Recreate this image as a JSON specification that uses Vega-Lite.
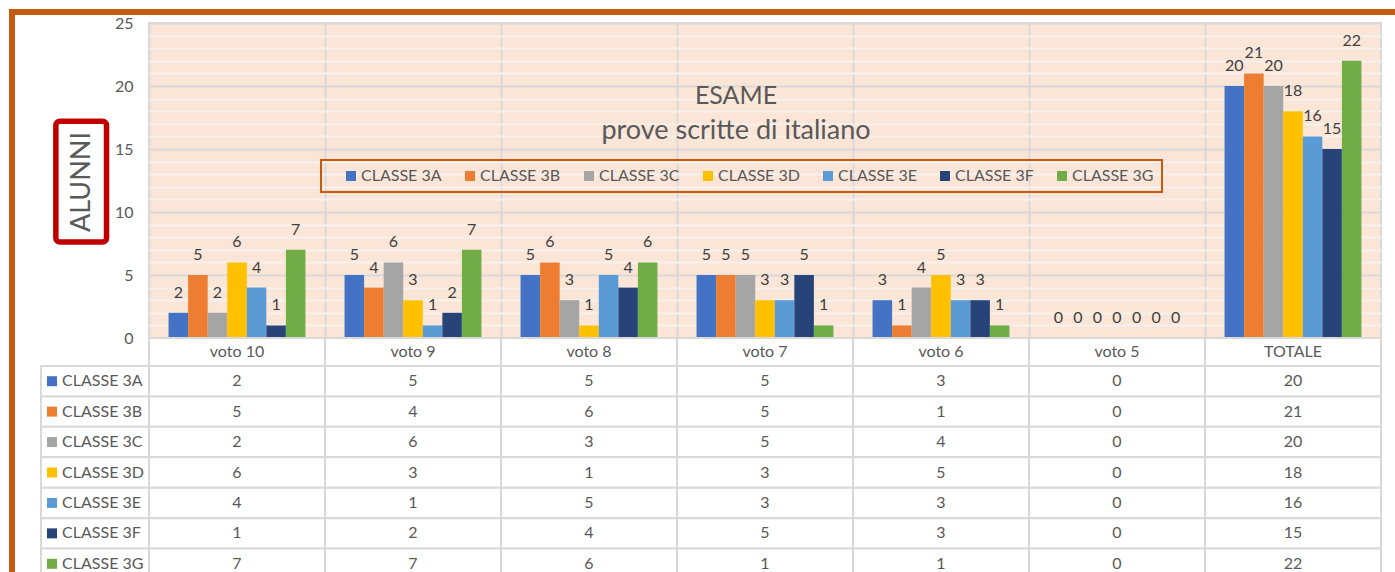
{
  "$schema": "https://vega.github.io/schema/vega-lite/v6.json",
  "background": "white",
  "padding": {"left": 9, "top": 9, "right": 0, "bottom": 0},
  "config": {"font": "Lato", "view": {"stroke": null}, "axis": {"labelFont": "Lato"}},
  "datasets": {
    "d": [
      {"cat": "voto 10", "cls": "CLASSE 3A", "n": 2}, {"cat": "voto 9", "cls": "CLASSE 3A", "n": 5}, {"cat": "voto 8", "cls": "CLASSE 3A", "n": 5}, {"cat": "voto 7", "cls": "CLASSE 3A", "n": 5}, {"cat": "voto 6", "cls": "CLASSE 3A", "n": 3}, {"cat": "voto 5", "cls": "CLASSE 3A", "n": 0}, {"cat": "TOTALE", "cls": "CLASSE 3A", "n": 20},
      {"cat": "voto 10", "cls": "CLASSE 3B", "n": 5}, {"cat": "voto 9", "cls": "CLASSE 3B", "n": 4}, {"cat": "voto 8", "cls": "CLASSE 3B", "n": 6}, {"cat": "voto 7", "cls": "CLASSE 3B", "n": 5}, {"cat": "voto 6", "cls": "CLASSE 3B", "n": 1}, {"cat": "voto 5", "cls": "CLASSE 3B", "n": 0}, {"cat": "TOTALE", "cls": "CLASSE 3B", "n": 21},
      {"cat": "voto 10", "cls": "CLASSE 3C", "n": 2}, {"cat": "voto 9", "cls": "CLASSE 3C", "n": 6}, {"cat": "voto 8", "cls": "CLASSE 3C", "n": 3}, {"cat": "voto 7", "cls": "CLASSE 3C", "n": 5}, {"cat": "voto 6", "cls": "CLASSE 3C", "n": 4}, {"cat": "voto 5", "cls": "CLASSE 3C", "n": 0}, {"cat": "TOTALE", "cls": "CLASSE 3C", "n": 20},
      {"cat": "voto 10", "cls": "CLASSE 3D", "n": 6}, {"cat": "voto 9", "cls": "CLASSE 3D", "n": 3}, {"cat": "voto 8", "cls": "CLASSE 3D", "n": 1}, {"cat": "voto 7", "cls": "CLASSE 3D", "n": 3}, {"cat": "voto 6", "cls": "CLASSE 3D", "n": 5}, {"cat": "voto 5", "cls": "CLASSE 3D", "n": 0}, {"cat": "TOTALE", "cls": "CLASSE 3D", "n": 18},
      {"cat": "voto 10", "cls": "CLASSE 3E", "n": 4}, {"cat": "voto 9", "cls": "CLASSE 3E", "n": 1}, {"cat": "voto 8", "cls": "CLASSE 3E", "n": 5}, {"cat": "voto 7", "cls": "CLASSE 3E", "n": 3}, {"cat": "voto 6", "cls": "CLASSE 3E", "n": 3}, {"cat": "voto 5", "cls": "CLASSE 3E", "n": 0}, {"cat": "TOTALE", "cls": "CLASSE 3E", "n": 16},
      {"cat": "voto 10", "cls": "CLASSE 3F", "n": 1}, {"cat": "voto 9", "cls": "CLASSE 3F", "n": 2}, {"cat": "voto 8", "cls": "CLASSE 3F", "n": 4}, {"cat": "voto 7", "cls": "CLASSE 3F", "n": 5}, {"cat": "voto 6", "cls": "CLASSE 3F", "n": 3}, {"cat": "voto 5", "cls": "CLASSE 3F", "n": 0}, {"cat": "TOTALE", "cls": "CLASSE 3F", "n": 15},
      {"cat": "voto 10", "cls": "CLASSE 3G", "n": 7}, {"cat": "voto 9", "cls": "CLASSE 3G", "n": 7}, {"cat": "voto 8", "cls": "CLASSE 3G", "n": 6}, {"cat": "voto 7", "cls": "CLASSE 3G", "n": 1}, {"cat": "voto 6", "cls": "CLASSE 3G", "n": 1}, {"cat": "voto 5", "cls": "CLASSE 3G", "n": 0}, {"cat": "TOTALE", "cls": "CLASSE 3G", "n": 22}
    ],
    "cats": [{"cat": "voto 10"}, {"cat": "voto 9"}, {"cat": "voto 8"}, {"cat": "voto 7"}, {"cat": "voto 6"}, {"cat": "voto 5"}, {"cat": "TOTALE"}],
    "classes": [{"cls": "CLASSE 3A"}, {"cls": "CLASSE 3B"}, {"cls": "CLASSE 3C"}, {"cls": "CLASSE 3D"}, {"cls": "CLASSE 3E"}, {"cls": "CLASSE 3F"}, {"cls": "CLASSE 3G"}]
  },
  "bounds": "flush",
  "spacing": 0,
  "hconcat": [
    {
      "width": 6, "height": 620,
      "data": {"values": [{}]},
      "view": {"fill": "#C55A11", "stroke": null},
      "mark": {"type": "rect", "color": "#C55A11"},
      "encoding": {}
    },
    {
      "spacing": 8,
      "bounds": "flush",
      "vconcat": [
        {
          "width": 1390, "height": 6,
          "data": {"values": [{}]},
          "view": {"fill": "#C55A11", "stroke": null},
          "mark": {"type": "rect", "color": "#C55A11"},
          "encoding": {}
        },
        {
          "columns": 2,
          "spacing": 0,
          "bounds": "flush",
          "resolve": {"scale": {"color": "independent", "x": "independent", "y": "independent"}, "legend": {"color": "independent"}},
          "concat": [
            {
              "width": 134, "height": 315,
              "data": {"values": [{"t": "ALUNNI"}]},
              "layer": [
                {
                  "mark": {"type": "rect", "filled": false, "stroke": "#C00000", "strokeWidth": 5.5, "cornerRadius": 4},
                  "encoding": {
                    "x": {"datum": 0.305, "type": "quantitative", "scale": {"domain": [0, 1], "nice": false, "zero": false}, "axis": null},
                    "x2": {"datum": 0.683},
                    "y": {"datum": 0.305, "type": "quantitative", "scale": {"domain": [0, 1], "nice": false, "zero": false}, "axis": null},
                    "y2": {"datum": 0.688}
                  }
                },
                {
                  "mark": {"type": "text", "angle": 270, "fontSize": 27, "color": "#595959", "align": "center", "baseline": "middle"},
                  "encoding": {
                    "text": {"field": "t"},
                    "x": {"datum": 0.5, "type": "quantitative"},
                    "y": {"datum": 0.495, "type": "quantitative"}
                  }
                }
              ]
            },
            {
              "width": 1232, "height": 315,
              "data": {"name": "d"},
              "view": {"stroke": "#D9D9D9", "strokeWidth": 2, "fill": "#FBE5D6"},
              "title": {
                "text": "ESAME", "subtitle": "prove scritte di italiano",
                "anchor": "middle", "offset": -129, "dx": -29,
                "font": "Lato", "fontSize": 25, "fontWeight": "normal", "color": "#595959",
                "subtitleFont": "Lato", "subtitleFontSize": 27, "subtitleColor": "#595959", "subtitlePadding": 9
              },
              "encoding": {
                "x": {
                  "field": "cat", "type": "nominal",
                  "scale": {"domain": ["voto 10", "voto 9", "voto 8", "voto 7", "voto 6", "voto 5", "TOTALE"], "paddingInner": 0, "paddingOuter": 0},
                  "axis": {"grid": true, "bandPosition": 0, "labels": false, "ticks": false, "domain": false, "title": null, "gridColor": "#D9D9D9", "gridWidth": 2}
                },
                "xOffset": {
                  "field": "cls", "type": "nominal",
                  "scale": {"domain": ["CLASSE 3A", "CLASSE 3B", "CLASSE 3C", "CLASSE 3D", "CLASSE 3E", "CLASSE 3F", "CLASSE 3G"], "paddingInner": 0, "paddingOuter": 1.1}
                },
                "y": {
                  "field": "n", "type": "quantitative",
                  "scale": {"domain": [0, 25], "nice": false},
                  "axis": {
                    "values": [0, 1, 2, 3, 4, 5, 6, 7, 8, 9, 10, 11, 12, 13, 14, 15, 16, 17, 18, 19, 20, 21, 22, 23, 24, 25],
                    "labelExpr": "datum.value % 5 === 0 ? datum.label : ''",
                    "title": null, "ticks": false, "domain": false, "grid": true,
                    "gridColor": {"condition": {"test": "datum.value % 5 === 0", "value": "#D9D9D9"}, "value": "#F6F1EE"},
                    "gridWidth": 2,
                    "labelFontSize": 16, "labelColor": "#595959", "labelPadding": 16
                  }
                }
              },
              "layer": [
                {
                  "mark": {"type": "bar"},
                  "encoding": {
                    "color": {
                      "field": "cls", "type": "nominal",
                      "scale": {"domain": ["CLASSE 3A", "CLASSE 3B", "CLASSE 3C", "CLASSE 3D", "CLASSE 3E", "CLASSE 3F", "CLASSE 3G"], "range": ["#4472C4", "#ED7D31", "#A5A5A5", "#FFC000", "#5B9BD5", "#264478", "#70AD47"]},
                      "legend": {
                        "orient": "none", "legendX": 172, "legendY": 137,
                        "direction": "horizontal", "columns": 7, "title": null,
                        "symbolType": "square", "symbolSize": 100, "symbolStrokeWidth": 0,
                        "symbolOffset": 14, "labelOffset": 2, "columnPadding": 6,
                        "strokeColor": "#C55A11", "padding": 8,
                        "labelFont": "Lato", "labelFontSize": 16, "labelColor": "#595959",
                        "encode": {"legend": {"update": {"strokeWidth": {"value": 2}}}}
                      }
                    }
                  }
                },
                {
                  "mark": {"type": "text", "dy": -15, "baseline": "alphabetic", "fontSize": 16, "color": "#404040"},
                  "encoding": {"text": {"field": "n"}}
                }
              ]
            },
            {
              "width": 134, "height": 28,
              "data": {"values": [{}]},
              "mark": {"type": "rect", "opacity": 0},
              "encoding": {}
            },
            {
              "width": 1232, "height": 28,
              "data": {"name": "cats"},
              "encoding": {
                "x": {"field": "cat", "type": "nominal", "scale": {"domain": ["voto 10", "voto 9", "voto 8", "voto 7", "voto 6", "voto 5", "TOTALE"], "paddingInner": 0, "paddingOuter": 0}, "axis": null}
              },
              "layer": [
                {"mark": {"type": "rect", "fill": "white", "stroke": "#D9D9D9", "strokeWidth": 2}},
                {"mark": {"type": "text", "fontSize": 16, "color": "#595959"}, "encoding": {"text": {"field": "cat"}}}
              ]
            },
            {
              "width": 134, "height": 213,
              "data": {"name": "classes"},
              "encoding": {
                "y": {"field": "cls", "type": "nominal", "scale": {"type": "band", "domain": ["CLASSE 3A", "CLASSE 3B", "CLASSE 3C", "CLASSE 3D", "CLASSE 3E", "CLASSE 3F", "CLASSE 3G"], "paddingInner": 0, "paddingOuter": 0}, "axis": null}
              },
              "layer": [
                {
                  "mark": {"type": "rect", "fill": "white", "stroke": "#D9D9D9", "strokeWidth": 2},
                  "encoding": {
                    "x": {"datum": 0.194, "type": "quantitative", "scale": {"domain": [0, 1], "nice": false, "zero": false}, "axis": null},
                    "x2": {"datum": 1}
                  }
                },
                {
                  "mark": {"type": "square", "size": 100, "opacity": 1},
                  "encoding": {
                    "x": {"datum": 0.276, "type": "quantitative"},
                    "color": {
                      "field": "cls", "type": "nominal",
                      "scale": {"domain": ["CLASSE 3A", "CLASSE 3B", "CLASSE 3C", "CLASSE 3D", "CLASSE 3E", "CLASSE 3F", "CLASSE 3G"], "range": ["#4472C4", "#ED7D31", "#A5A5A5", "#FFC000", "#5B9BD5", "#264478", "#70AD47"]},
                      "legend": null
                    }
                  }
                },
                {
                  "mark": {"type": "text", "align": "left", "fontSize": 16, "color": "#595959"},
                  "encoding": {"x": {"datum": 0.351, "type": "quantitative"}, "text": {"field": "cls"}}
                }
              ]
            },
            {
              "width": 1232, "height": 213,
              "data": {"name": "d"},
              "encoding": {
                "x": {"field": "cat", "type": "nominal", "scale": {"domain": ["voto 10", "voto 9", "voto 8", "voto 7", "voto 6", "voto 5", "TOTALE"], "paddingInner": 0, "paddingOuter": 0}, "axis": null},
                "y": {"field": "cls", "type": "nominal", "scale": {"type": "band", "domain": ["CLASSE 3A", "CLASSE 3B", "CLASSE 3C", "CLASSE 3D", "CLASSE 3E", "CLASSE 3F", "CLASSE 3G"], "paddingInner": 0, "paddingOuter": 0}, "axis": null}
              },
              "layer": [
                {"mark": {"type": "rect", "fill": "white", "stroke": "#D9D9D9", "strokeWidth": 2}},
                {"mark": {"type": "text", "fontSize": 16, "color": "#595959"}, "encoding": {"text": {"field": "n"}}}
              ]
            }
          ]
        }
      ]
    }
  ]
}
